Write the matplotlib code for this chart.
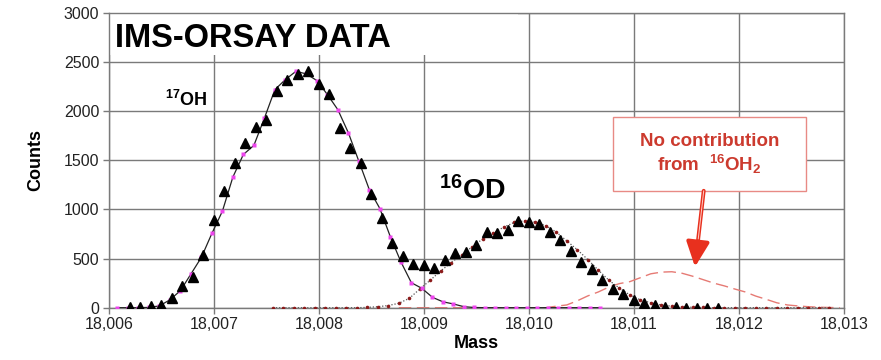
import numpy as np
import matplotlib
matplotlib.use("Agg")
import matplotlib.pyplot as plt
from matplotlib.patches import Rectangle
from matplotlib.ticker import FuncFormatter

plt.rcParams['font.family'] = ['Liberation Sans', 'DejaVu Sans']
plt.rcParams['mathtext.fontset'] = 'custom'
plt.rcParams['mathtext.rm'] = 'Liberation Sans'
plt.rcParams['mathtext.bf'] = 'Liberation Sans:bold'

# ---------------- data ----------------
# measured points (triangles), mass step 0.0001 from 18.0062
meas_start, meas_step = 18.0062, 0.0001
meas_counts = [3, 10, 13, 30, 100, 217, 312, 539, 895, 1183,
               1468, 1681, 1840, 1908, 2210, 2317, 2382, 2413, 2280, 2179,
               1828, 1621, 1473, 1159, 916, 663, 531, 440, 430, 399,
               490, 559, 568, 636, 771, 761, 795, 882, 872, 855,
               771, 694, 575, 467, 392, 283, 187, 136, 78, 50,
               25, 5, 4, 0, 0, 0, 0]

# 17OH fit (black line, magenta points) from 18.00608
oh17_start, oh17_step = 18.00608, 0.0001
oh17_fit = [0, 0, 0, 3, 18, 80, 173, 342, 512, 756,
            982, 1330, 1560, 1652, 1929, 2220, 2322, 2406, 2380, 2312,
            2170, 2015, 1780, 1490, 1200, 1009, 721, 467, 254, 197,
            106, 60, 38, 10, 2, 0, 0, 0, 0, 0,
            0, 0, 0, 0, 0, 0, 0]

# 16OD fit (dotted line, dark red points) from 18.00756
od16_start, od16_step = 18.00756, 0.0001
od16_fit = [0, 0, 0, 0, 0, 0, 0, 0, 0, 3,
            10, 22, 45, 95, 190, 280, 375, 460, 540, 620,
            700, 760, 820, 868, 885, 870, 835, 770, 680, 590,
            490, 383, 280, 200, 130, 80, 50, 28, 15, 8,
            4, 2, 0, 0, 0, 0, 0, 0, 0, 0,
            0, 0, 0, 0]

# expected 16OH2 contribution (dashed) from 18.00876
oh2_start, oh2_step = 18.00876, 0.0001
oh2_expected = [0, 0, 0, 0, 0, 0, 0, 0, 0, 0,
                0, 0, 0, 0, 0, 15, 28, 70, 120, 160,
                210, 245, 265, 305, 345, 362, 366, 350, 320, 285,
                250, 222, 190, 160, 118, 85, 50, 28, 18, 10,
                5, 2, 0]

x_ticks = [18.006, 18.007, 18.008, 18.009, 18.010, 18.011, 18.012, 18.013]
y_ticks = [0, 500, 1000, 1500, 2000, 2500, 3000]


def grid(start, step, n):
    return start + step * np.arange(n)


meas_x = grid(meas_start, meas_step, len(meas_counts))
oh17_x = grid(oh17_start, oh17_step, len(oh17_fit))
od16_x = grid(od16_start, od16_step, len(od16_fit))
oh2_x = grid(oh2_start, oh2_step, len(oh2_expected))

# ---------------- figure ----------------
fig = plt.figure(figsize=(8.81, 3.60), dpi=100)
ax = fig.add_axes([0.1237, 0.1453, 0.8343, 0.8186])

ax.set_xlim(18.006, 18.013)
ax.set_ylim(0, 3000)
ax.set_xticks(x_ticks)
ax.set_yticks(y_ticks)
ax.xaxis.set_major_formatter(FuncFormatter(lambda v, p: f"{v:.3f}".replace('.', ',')))
ax.grid(True, color='#7a7a7a', lw=1.0)
ax.set_axisbelow(True)
for s in ax.spines.values():
    s.set_color('#7a7a7a')
    s.set_linewidth(1.0)
ax.tick_params(axis='both', length=4, width=1.0, color='#7a7a7a',
               labelsize=11.5, labelcolor='#222222', pad=3)

# expected 16OH2 (dashed)
ax.plot(oh2_x, oh2_expected, color='#e67a74', lw=1.0, ls=(0, (9, 4)), zorder=2)
# 16OD fit
ax.plot(od16_x, od16_fit, color='#555555', lw=0.9, ls=(0, (1, 1.5)), zorder=2)
ax.plot(od16_x, od16_fit, ls='none', marker='o', ms=2.6, color='#8b1a1a',
        mec='none', zorder=3)
# 17OH fit
ax.plot(oh17_x, oh17_fit, color='#222222', lw=0.9, zorder=3)
ax.plot(oh17_x, oh17_fit, ls='none', marker='s', ms=2.6, color='#ee44ee',
        mec='none', zorder=3)
# measured data
ax.plot(meas_x, meas_counts, ls='none', marker='^', ms=7.2, color='black', zorder=4)

# title with white background
ax.add_patch(Rectangle((18.006, 2576), 0.0039, 424, facecolor='white',
                       edgecolor='none', zorder=1.5))
ax.text(18.00606, 2650, 'IMS-ORSAY DATA', fontsize=23.5, fontweight='bold',
        va='baseline', ha='left', zorder=5)

ax.text(18.006535, 2058, r'$\mathbf{^{17}OH}$', fontsize=13, va='baseline',
        ha='left', zorder=5)
ax.text(18.00914, 1103, r'$\mathbf{^{16}OD}$', fontsize=20.5, va='baseline',
        ha='left', zorder=5)

# annotation box
ax.add_patch(Rectangle((18.010804, 1193), 0.001834, 751, facecolor='white',
                       edgecolor='#e88a85', lw=1.0, zorder=5))
ax.text(18.01172, 1560, 'No contribution\nfrom  $\\mathbf{^{16}OH_2}$',
        fontsize=13.5, fontweight='bold', color='#cc3a2e', ha='center',
        va='center', linespacing=1.15, zorder=6)

ax.annotate('', xy=(18.011581, 416), xytext=(18.011664, 1190),
            arrowprops=dict(arrowstyle='-|>,head_length=1.5,head_width=0.7',
                            color='#e8301e', lw=2.8, shrinkA=0, shrinkB=0),
            zorder=6)
ax.annotate('', xy=(18.011612, 700), xytext=(18.011664, 1190),
            arrowprops=dict(arrowstyle='-', color='#ffd0c8', lw=0.7,
                            shrinkA=0, shrinkB=0), zorder=7)

ax.set_ylabel('Counts', fontsize=13, fontweight='bold', labelpad=14)
ax.set_xlabel('Mass', fontsize=13, fontweight='bold', labelpad=2)

fig.savefig('out.png', dpi=100, facecolor='white')
